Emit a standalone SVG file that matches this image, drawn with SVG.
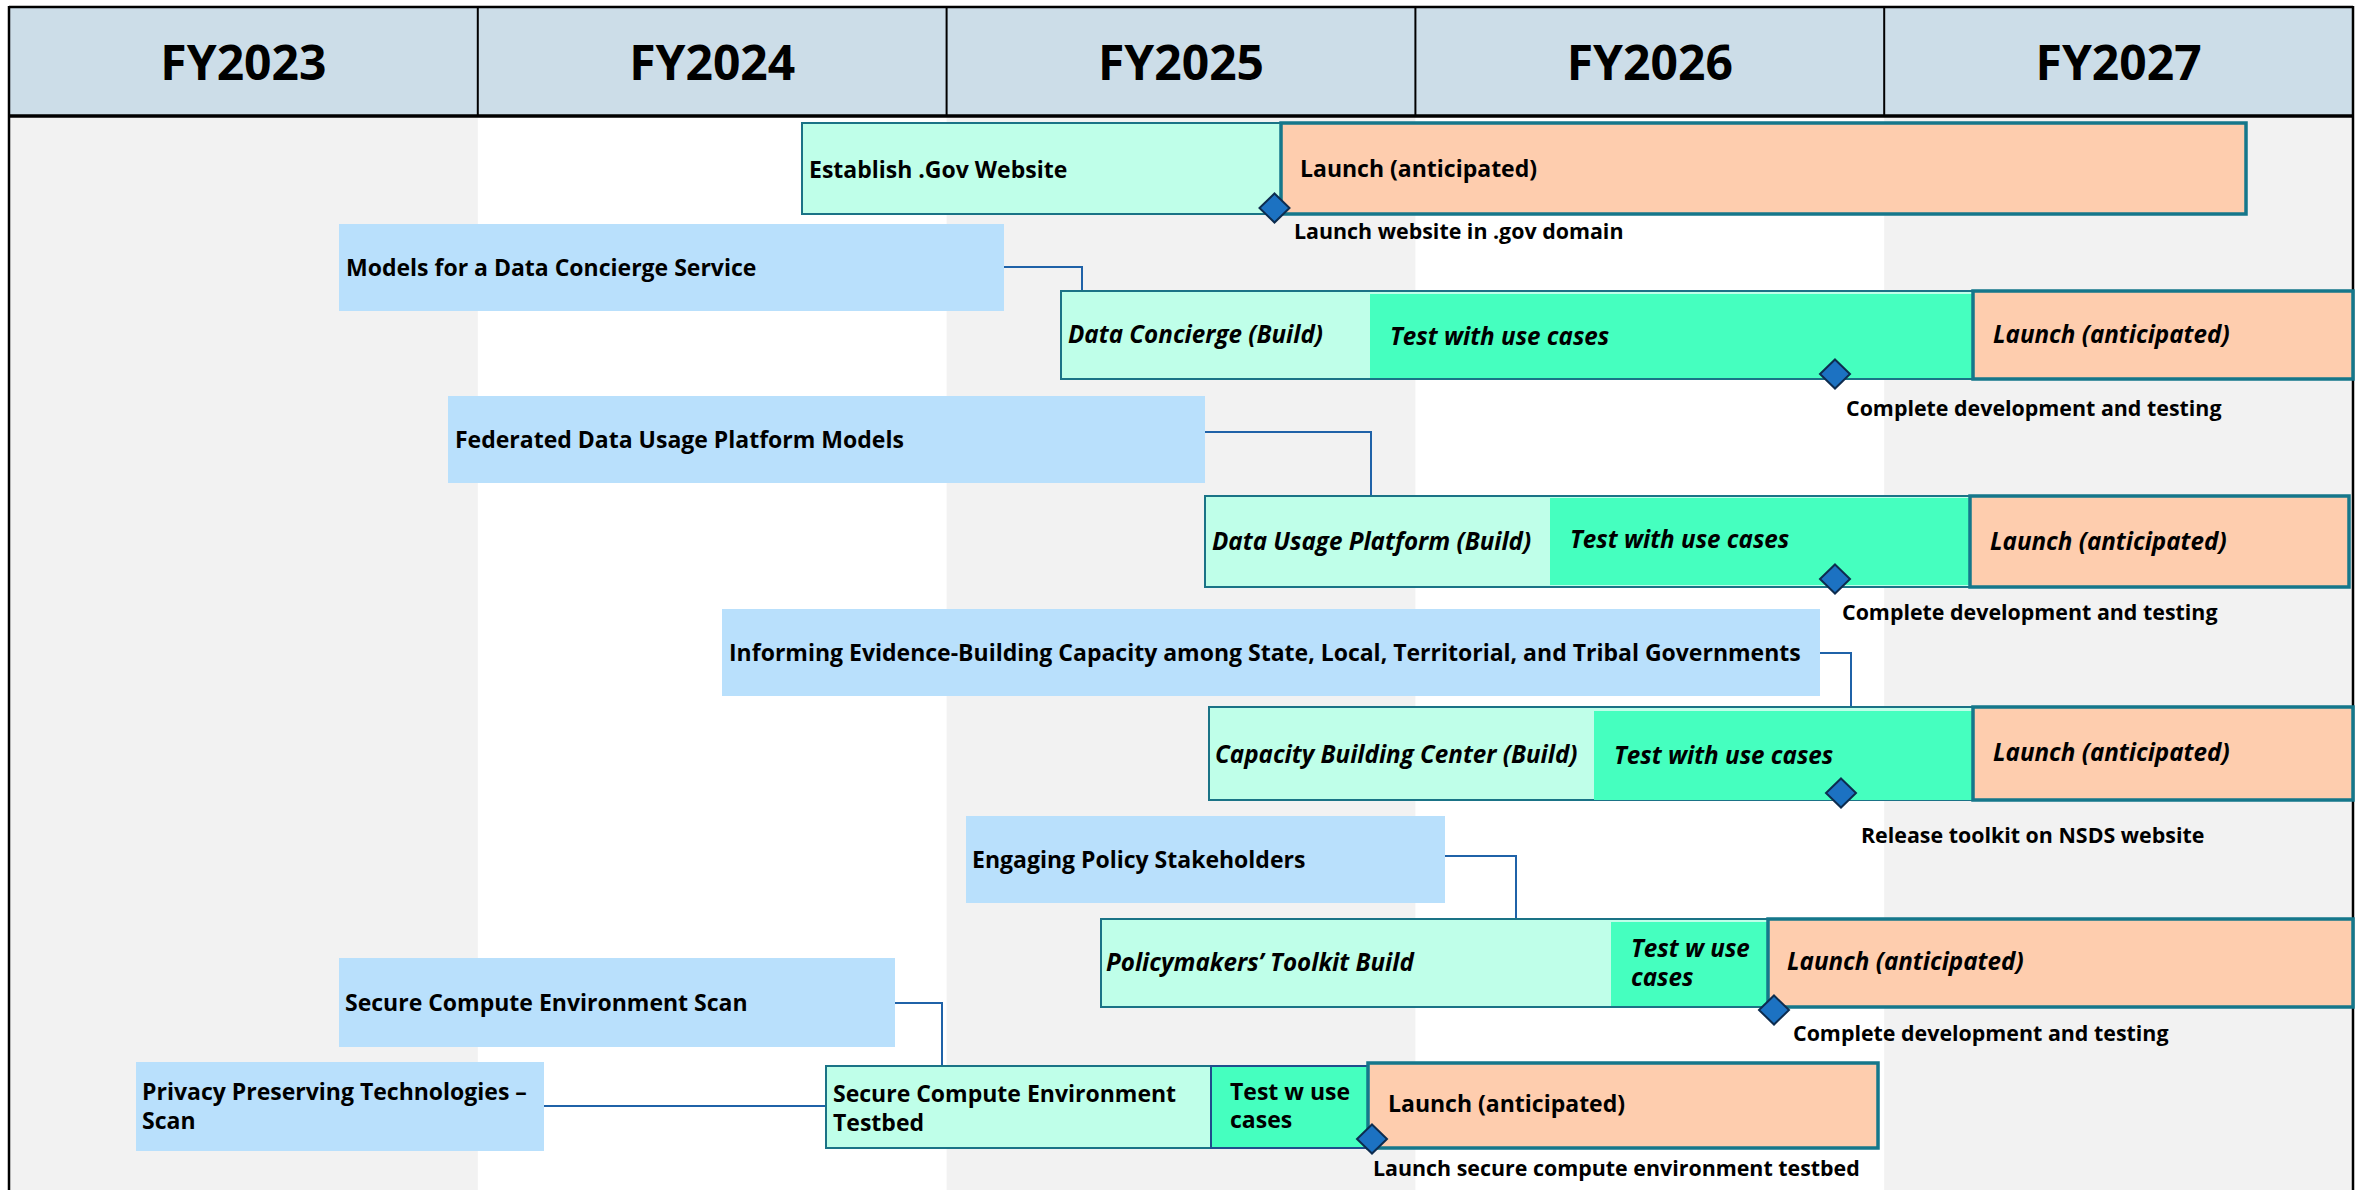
<svg xmlns="http://www.w3.org/2000/svg" width="2359" height="1190" viewBox="0 0 2359 1190">
  <style>
    .hdr { font-family: "Open Sans", "Liberation Sans", sans-serif; font-weight: bold; font-size: 48px; text-anchor: middle; fill: #000; }
    .t { font-family: "Open Sans", "Liberation Sans", sans-serif; font-weight: bold; font-size: 23px; fill: #000; }
    .i { font-style: italic; font-size: 24.2px; }
    .ms { font-size: 21.4px; }
    .blue { fill: #B9E0FC; }
    .mint { fill: #BFFFE9; stroke: #1A7386; stroke-width: 2; }
    .green { fill: #45FFBF; }
    .orange { fill: #FECDAE; stroke: #15778B; stroke-width: 3.5; }
    .conn { fill: none; stroke: #1F62A8; stroke-width: 2; }
    .dia { fill: #1C72C2; stroke: #0D2C4F; stroke-width: 2; }
    .gray { fill: #F2F2F2; }
    .frame { stroke: #000; fill: none; }
  </style>
  <defs>
    <path id="dm" d="M0,-14.5 L15,0 L0,14.5 L-15,0 Z"/>
  </defs>

  <g id="background">
    <rect x="0" y="0" width="2359" height="1190" fill="#FFFFFF"/>
    <rect class="gray" x="9" y="116" width="468.8" height="1074"/>
    <rect class="gray" x="946.6" y="116" width="468.8" height="1074"/>
    <rect class="gray" x="1884.2" y="116" width="468.8" height="1074"/>
  </g>

  <g id="header">
    <rect x="9" y="7" width="2344" height="109" fill="#CCDDE8"/>
    <text class="hdr" x="243.4" y="80">FY2023</text>
    <text class="hdr" x="712.2" y="80">FY2024</text>
    <text class="hdr" x="1181" y="80">FY2025</text>
    <text class="hdr" x="1649.8" y="80">FY2026</text>
    <text class="hdr" x="2118.6" y="80">FY2027</text>
    <line class="frame" x1="9" y1="7" x2="2353" y2="7" stroke-width="2.5"/>
    <line class="frame" x1="477.8" y1="7" x2="477.8" y2="116" stroke-width="2"/>
    <line class="frame" x1="946.6" y1="7" x2="946.6" y2="116" stroke-width="2"/>
    <line class="frame" x1="1415.4" y1="7" x2="1415.4" y2="116" stroke-width="2"/>
    <line class="frame" x1="1884.2" y1="7" x2="1884.2" y2="116" stroke-width="2"/>
    <line class="frame" x1="9" y1="116" x2="2353" y2="116" stroke-width="3.5"/>
    <line class="frame" x1="9" y1="6" x2="9" y2="1190" stroke-width="2.5"/>
    <line class="frame" x1="2353" y1="6" x2="2353" y2="1190" stroke-width="2.5"/>
  </g>

  <g id="connectors">
    <path class="conn" d="M1004,267 H1082 V291"/>
    <path class="conn" d="M1205,432 H1371 V496"/>
    <path class="conn" d="M1820,653 H1851 V707"/>
    <path class="conn" d="M1445,856 H1516 V919"/>
    <path class="conn" d="M895,1003 H942 V1066"/>
    <path class="conn" d="M544,1106 H826"/>
  </g>

  <g id="gov-website">
    <rect class="mint" x="802" y="123" width="479" height="91"/>
    <rect class="orange" x="1281" y="123" width="965" height="91"/>
    <text class="t" x="809" y="178">Establish .Gov Website</text>
    <text class="t" x="1300" y="177">Launch (anticipated)</text>
    <use href="#dm" class="dia" x="1274.5" y="208"/>
    <text class="t ms" x="1294" y="239">Launch website in .gov domain</text>
  </g>

  <g id="models-data-concierge">
    <rect class="blue" x="339" y="224" width="665" height="87"/>
    <text class="t" x="346" y="276">Models for a Data Concierge Service</text>
  </g>

  <g id="data-concierge">
    <rect class="mint" x="1061" y="291" width="912" height="88"/>
    <rect class="green" x="1370" y="294" width="603" height="84"/>
    <rect class="orange" x="1973" y="291" width="380" height="88"/>
    <text class="t i" x="1068" y="343">Data Concierge (Build)</text>
    <text class="t i" x="1390" y="345">Test with use cases</text>
    <text class="t i" x="1993" y="343">Launch (anticipated)</text>
    <use href="#dm" class="dia" x="1835" y="374"/>
    <text class="t ms" x="1846" y="416">Complete development and testing</text>
  </g>

  <g id="federated-models">
    <rect class="blue" x="448" y="396" width="757" height="87"/>
    <text class="t" x="455" y="448">Federated Data Usage Platform Models</text>
  </g>

  <g id="data-usage-platform">
    <rect class="mint" x="1205" y="496" width="765" height="91"/>
    <rect class="green" x="1550" y="498" width="420" height="87"/>
    <rect class="orange" x="1970" y="496" width="379" height="91"/>
    <text class="t i" x="1212" y="550">Data Usage Platform (Build)</text>
    <text class="t i" x="1570" y="548">Test with use cases</text>
    <text class="t i" x="1990" y="550">Launch (anticipated)</text>
    <use href="#dm" class="dia" x="1835" y="579"/>
    <text class="t ms" x="1842" y="620">Complete development and testing</text>
  </g>

  <g id="informing-evidence">
    <rect class="blue" x="722" y="609" width="1098" height="87"/>
    <text class="t" x="729" y="661">Informing Evidence-Building Capacity among State, Local, Territorial, and Tribal Governments</text>
  </g>

  <g id="capacity-building-center">
    <rect class="mint" x="1209" y="707" width="764" height="93"/>
    <rect class="green" x="1594" y="711" width="379" height="89"/>
    <rect class="orange" x="1973" y="707" width="380" height="93"/>
    <text class="t i" x="1215" y="763">Capacity Building Center (Build)</text>
    <text class="t i" x="1614" y="764">Test with use cases</text>
    <text class="t i" x="1993" y="761">Launch (anticipated)</text>
    <use href="#dm" class="dia" x="1841" y="793"/>
    <text class="t ms" x="1861" y="843">Release toolkit on NSDS website</text>
  </g>

  <g id="engaging-stakeholders">
    <rect class="blue" x="966" y="816" width="479" height="87"/>
    <text class="t" x="972" y="868">Engaging Policy Stakeholders</text>
  </g>

  <g id="policymakers-toolkit">
    <rect class="mint" x="1101" y="919" width="667" height="88"/>
    <rect class="green" x="1611" y="922" width="157" height="84"/>
    <rect class="orange" x="1768" y="919" width="585" height="88"/>
    <text class="t i" x="1106" y="971">Policymakers’ Toolkit Build</text>
    <text class="t i" x="1631" y="957">Test w use</text>
    <text class="t i" x="1631" y="986">cases</text>
    <text class="t i" x="1787" y="970">Launch (anticipated)</text>
    <use href="#dm" class="dia" x="1774" y="1010"/>
    <text class="t ms" x="1793" y="1041">Complete development and testing</text>
  </g>

  <g id="secure-compute-scan">
    <rect class="blue" x="339" y="958" width="556" height="89"/>
    <text class="t" x="345" y="1011">Secure Compute Environment Scan</text>
  </g>

  <g id="privacy-preserving-scan">
    <rect class="blue" x="136" y="1062" width="408" height="89"/>
    <text class="t" x="142" y="1100">Privacy Preserving Technologies –</text>
    <text class="t" x="142" y="1129">Scan</text>
  </g>

  <g id="secure-compute-testbed">
    <rect class="mint" x="826" y="1066" width="385" height="82"/>
    <rect class="green" x="1211" y="1066" width="157" height="82" stroke="#1F4E8C" stroke-width="2"/>
    <rect class="orange" x="1368" y="1063" width="510" height="85"/>
    <text class="t" x="833" y="1102">Secure Compute Environment</text>
    <text class="t" x="833" y="1131">Testbed</text>
    <text class="t" x="1230" y="1100">Test w use</text>
    <text class="t" x="1230" y="1128">cases</text>
    <text class="t" x="1388" y="1112">Launch (anticipated)</text>
    <use href="#dm" class="dia" x="1372" y="1139"/>
    <text class="t ms" x="1373" y="1176">Launch secure compute environment testbed</text>
  </g>
</svg>
